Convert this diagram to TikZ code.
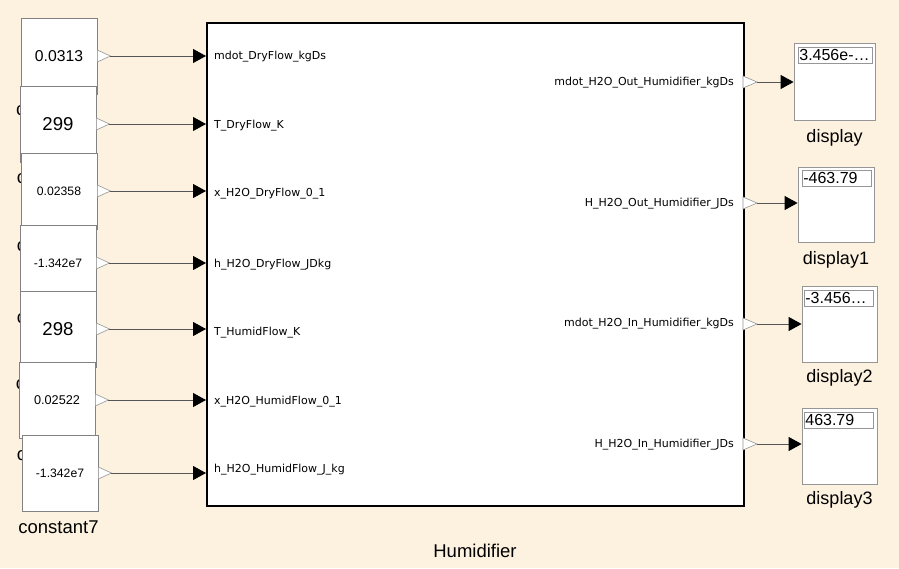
\documentclass[tikz,border=0pt]{standalone}
\usepackage{fontspec}
\setmainfont{Liberation Sans}
\newfontfamily\portfont{DejaVu Sans}
\usetikzlibrary{arrows.meta}
\definecolor{bg}{RGB}{253,242,224}
\definecolor{blkgray}{RGB}{130,130,130}
\definecolor{portgray}{RGB}{150,150,150}
\definecolor{wiregray}{RGB}{85,85,85}
\begin{document}
\begin{tikzpicture}[x=1pt,y=-1pt,
  cblk/.style={draw=blkgray, fill=white, line width=0.8pt, minimum width=76pt, minimum height=76pt, inner sep=0pt},
  clabel/.style={font=\fontsize{18.5}{20}\selectfont, inner sep=0pt},
  porttri/.style={draw=portgray, fill=white, line width=0.6pt},
  wire/.style={draw=wiregray, line width=0.9pt, -{Triangle[length=13pt,width=14pt,color=black]}},
  plabel/.style={font=\portfont\fontsize{11}{13}\selectfont, inner sep=0pt},
  dbox/.style={draw=portgray, fill=white, line width=0.8pt, inner sep=0pt},
  field/.style={draw=portgray, fill=white, line width=0.7pt, minimum height=16pt, inner xsep=1pt, inner ysep=0pt, text width=72pt, align=left, anchor=north west, font=\fontsize{16}{17}\selectfont},
  dlabel/.style={font=\fontsize{18}{20}\selectfont, inner sep=0pt}]
\fill[bg] (0,0) rectangle (899,568);
\useasboundingbox (0,0) rectangle (899,568);

% constants (each covers the label of the previous one)
\node[cblk, font=\fontsize{15.7}{17}\selectfont] (c1) at (59,56) {0.0313};
\node[clabel, anchor=west] (l1) at (16,110) {constant};
\node[cblk, font=\fontsize{18.6}{20}\selectfont] (c2) at (58,124) {299};
\node[clabel] (l2) at (57,177) {constant1};
\node[cblk, font=\fontsize{12.2}{14}\selectfont] (c3) at (59,191) {0.02358};
\node[clabel] (l3) at (57,245) {constant3};
\node[cblk, font=\fontsize{12.2}{14}\selectfont] (c4) at (58,263) {-1.342e7};
\node[clabel] (l4) at (57,317) {constant2};
\node[cblk, font=\fontsize{18.6}{20}\selectfont] (c5) at (58,329) {298};
\node[clabel] (l5) at (56,383) {constant5};
\node[cblk, font=\fontsize{12.7}{14}\selectfont] (c6) at (57,400) {0.02522};
\node[clabel] (l6) at (57,454) {constant6};
\node[cblk, font=\fontsize{12.2}{14}\selectfont] (c7) at (60,473) {-1.342e7};
\node[clabel] (l7) at (58.5,527) {constant7};

% main block
\node[draw=black, line width=1.6pt, fill=white, anchor=north west, minimum width=537pt, minimum height=483pt, inner sep=0pt] (hum) at (206,22) {};
\node[clabel] (huml) at (475,551) {Humidifier};

% input labels
\node[plabel, anchor=west] at (214,57) {mdot\_DryFlow\_kgDs};
\node[plabel, anchor=west] at (214,126) {T\_DryFlow\_K};
\node[plabel, anchor=west] at (214,194) {x\_H2O\_DryFlow\_0\_1};
\node[plabel, anchor=west] at (214,265) {h\_H2O\_DryFlow\_JDkg};
\node[plabel, anchor=west] at (214,333) {T\_HumidFlow\_K};
\node[plabel, anchor=west] at (214,402) {x\_H2O\_HumidFlow\_0\_1};
\node[plabel, anchor=west] at (214,470) {h\_H2O\_HumidFlow\_J\_kg};

% output labels
\node[plabel, anchor=east] at (734,83) {mdot\_H2O\_Out\_Humidifier\_kgDs};
\node[plabel, anchor=east] at (734,204) {H\_H2O\_Out\_Humidifier\_JDs};
\node[plabel, anchor=east] at (734,324) {mdot\_H2O\_In\_Humidifier\_kgDs};
\node[plabel, anchor=east] at (734,445) {H\_H2O\_In\_Humidifier\_JDs};

% constant output ports and wires
\foreach \i in {1,...,7} {
  \coordinate (p\i) at (c\i.east);
  \draw[porttri] (p\i) ++(0,-6) -- ++(13,6) -- ++(-13,6) -- cycle;
  \coordinate (q\i) at ([xshift=13pt]c\i.east);
  \draw[wire] (q\i) -- (hum.west |- q\i);
}

% displays
\node[dbox, minimum width=81pt, minimum height=77pt] (d0) at (834.5,81.5) {};
\node[field] (f0) at (798,47) {3.456e-…};
\node[dlabel] (dl0) at (834.5,138) {display};
\node[dbox, minimum width=76pt, minimum height=75pt] (d1) at (836,204.5) {};
\node[field, text width=67pt] (f1) at (802,170) {-463.79};
\node[dlabel] (dl1) at (836,260) {display1};
\node[dbox, minimum width=75pt, minimum height=76pt] (d2) at (839.5,324) {};
\node[field, text width=67pt] (f2) at (804,290) {-3.456…};
\node[dlabel] (dl2) at (839.5,378) {display2};
\node[dbox, minimum width=75pt, minimum height=76pt] (d3) at (839.5,446) {};
\node[field, text width=67pt] (f3) at (804,412) {463.79};
\node[dlabel] (dl3) at (839.5,500) {display3};

% output ports and wires
\foreach \y/\d [count=\k] in {82/d0,203/d1,324/d2,444/d3} {
  \coordinate (ob\k) at (743,\y);
  \draw[porttri] (ob\k) ++(0,-6) -- ++(14,6) -- ++(-14,6) -- cycle;
  \coordinate (ot\k) at (757,\y);
  \draw[wire] (ot\k) -- (\d.west |- ot\k);
}
\end{tikzpicture}
\end{document}
